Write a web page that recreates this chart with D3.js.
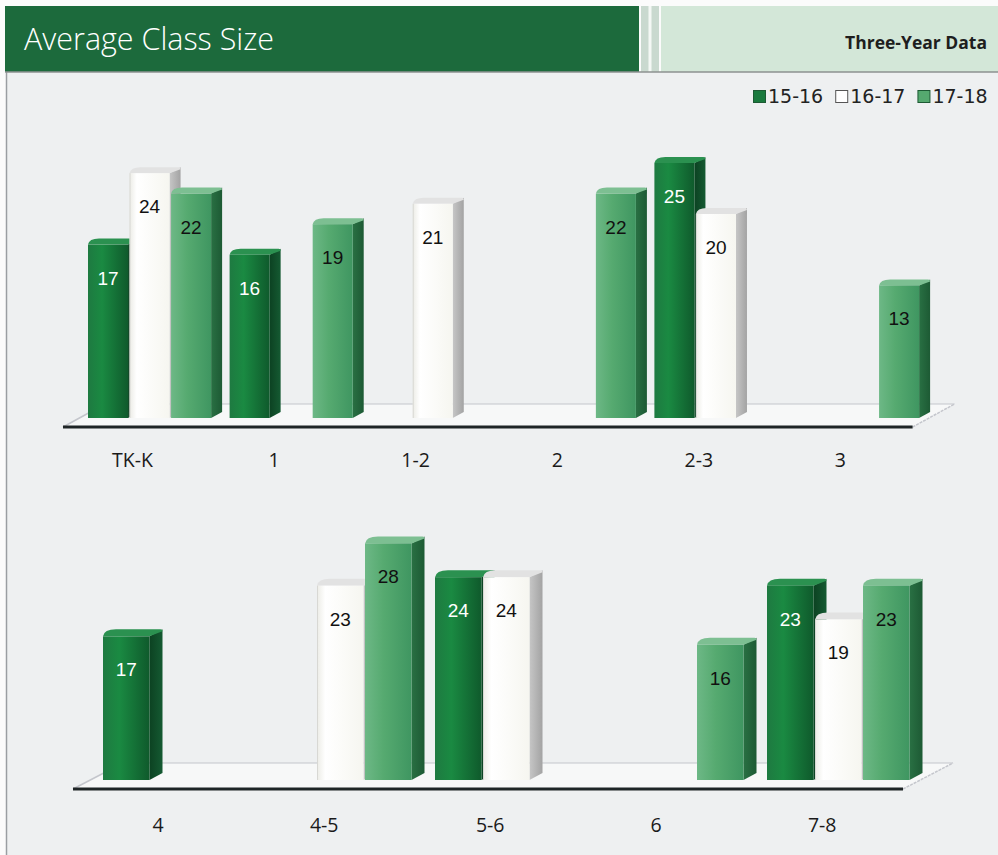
<!DOCTYPE html>
<html>
<head>
<meta charset="utf-8">
<script src="https://cdn.jsdelivr.net/npm/d3@7"></script>
<style>
  html, body { margin: 0; padding: 0; background: #fbfbfb; }
  svg { display: block; }
</style>
</head>
<body>
<div id="chart"></div>
<script>
// data
var series = ["15-16", "16-17", "17-18"];

var topCategories = ["TK-K", "1", "1-2", "2", "2-3", "3"];
var top1516 = [17, 16, null, null, 25, null];
var top1617 = [24, null, 21, null, 20, null];
var top1718 = [22, 19, null, 22, null, 13];

var bottomCategories = ["4", "4-5", "5-6", "6", "7-8"];
var bottom1516 = [17, null, 24, null, 23];
var bottom1617 = [null, 23, 24, null, 19];
var bottom1718 = [null, 28, null, 16, 23];

var W = 998, H = 855;

var svg = d3.select("#chart").append("svg")
    .attr("width", W)
    .attr("height", H);

var defs = svg.append("defs");

function hGrad(id, stops) {
    var g = defs.append("linearGradient").attr("id", id)
        .attr("x1", "0%").attr("x2", "100%").attr("y1", "0%").attr("y2", "0%");
    stops.forEach(function (s) {
        g.append("stop").attr("offset", s[0]).attr("stop-color", s[1]);
    });
}

// bar colours (front, side, top) per series
hGrad("f0", [["0%", "#1e7a41"], ["35%", "#1a8a42"], ["100%", "#0f5a2c"]]);
hGrad("s0", [["0%", "#0c4222"], ["100%", "#155a32"]]);
hGrad("f1", [["0%", "#ecece6"], ["18%", "#ffffff"], ["100%", "#f6f6f0"]]);
hGrad("s1", [["0%", "#c6c6c6"], ["100%", "#a3a3a3"]]);
hGrad("f2", [["0%", "#6db886"], ["40%", "#56aa70"], ["100%", "#3f9661"]]);
hGrad("s2", [["0%", "#297043"], ["100%", "#1d5a34"]]);

var topColor = ["#2b9150", "#e2e2e2", "#7dbf92"];
var textColor = ["#ffffff", "#111111", "#111111"];
var legendColor = ["#1a7a3e", "#ffffff", "#55a96f"];

// panel background
svg.append("rect")
    .attr("x", 6).attr("y", 72)
    .attr("width", W - 6).attr("height", H - 72)
    .attr("fill", "#eef0f1");
svg.append("line")
    .attr("x1", 6.5).attr("x2", 6.5).attr("y1", 72).attr("y2", H)
    .attr("stroke", "#9a9ea2").attr("stroke-width", 1.5);

// header
svg.append("rect")
    .attr("x", 5).attr("y", 6).attr("width", 634).attr("height", 66)
    .attr("fill", "#1c6a3c");
svg.append("rect")
    .attr("x", 641).attr("y", 6).attr("width", 18).attr("height", 66)
    .attr("fill", "#c9d9cf");
svg.append("line")
    .attr("x1", 650).attr("x2", 650).attr("y1", 6).attr("y2", 72)
    .attr("stroke", "#f4f8f5").attr("stroke-width", 3);
svg.append("rect")
    .attr("x", 661).attr("y", 6).attr("width", W - 661).attr("height", 66)
    .attr("fill", "#d3e7d8");
svg.append("line")
    .attr("x1", 5).attr("x2", W).attr("y1", 72).attr("y2", 72)
    .attr("stroke", "#8c9290").attr("stroke-width", 1.5);

svg.append("text")
    .attr("x", 24).attr("y", 50)
    .attr("textLength", 250)
    .attr("lengthAdjust", "spacingAndGlyphs")
    .style("font-family", "'Open Sans', sans-serif")
    .style("font-weight", 300)
    .style("font-size", "32px")
    .attr("fill", "#ffffff")
    .text("Average Class Size");

svg.append("text")
    .attr("x", 987).attr("y", 49)
    .attr("text-anchor", "end")
    .style("font-family", "'Open Sans', sans-serif")
    .style("font-weight", 700)
    .style("font-size", "17.5px")
    .attr("fill", "#1e1e1e")
    .text("Three-Year Data");

// legend
var legend = svg.append("g").attr("transform", "translate(753,90)");
var lx = 0;
series.forEach(function (s, i) {
    legend.append("rect")
        .attr("x", lx + 0.5).attr("y", 0.5)
        .attr("width", 12).attr("height", 12)
        .attr("fill", legendColor[i])
        .attr("stroke", i == 1 ? "#555" : "#1d5a34")
        .attr("stroke-width", 1);
    var t = legend.append("text")
        .attr("x", lx + 15).attr("y", 13)
        .style("font-family", "'DejaVu Sans', sans-serif")
        .style("font-size", "19px")
        .attr("fill", "#222")
        .text(s);
    lx += 15 + t.node().getComputedTextLength() + 12;
});

function drawPanel(cfg) {
    var g = svg.append("g");
    var n = cfg.categories.length;

    var x = d3.scaleBand()
        .domain(cfg.categories)
        .range([cfg.x0, cfg.x0 + cfg.step * (n - cfg.padInner)])
        .paddingInner(cfg.padInner)
        .paddingOuter(0);

    var xs = d3.scaleBand()
        .domain(series)
        .range([0, x.bandwidth()]);

    var y = d3.scaleLinear()
        .domain([0, cfg.maxV])
        .range([cfg.base, cfg.base - cfg.maxV * cfg.pxPerUnit]);

    var r = x.range();
    var fl = r[0] - cfg.floorLeft, fr = r[1] - cfg.floorRight;
    var yf = cfg.base + cfg.floorFront, yb = cfg.base - cfg.floorBack;

    // floor
    g.append("path")
        .attr("d", "M" + fl + "," + yf + "L" + fr + "," + yf +
            "L" + (fr + cfg.floorDx) + "," + yb + "L" + (fl + cfg.floorDx) + "," + yb + "Z")
        .attr("fill", "#f7f8f8");
    g.append("line")
        .attr("x1", fl + cfg.floorDx).attr("x2", fr + cfg.floorDx)
        .attr("y1", yb).attr("y2", yb)
        .attr("stroke", "#c4c6cc").attr("stroke-width", 1.2);
    g.append("line")
        .attr("x1", fr).attr("x2", fr + cfg.floorDx)
        .attr("y1", yf).attr("y2", yb)
        .attr("stroke", "#c4c6cc").attr("stroke-width", 1.5)
        .attr("stroke-dasharray", "3,1");
    g.append("line")
        .attr("x1", fl).attr("x2", fl + cfg.floorDx)
        .attr("y1", yf).attr("y2", yb)
        .attr("stroke", "#c4c6cc").attr("stroke-width", 1.5);
    g.append("line")
        .attr("x1", fl).attr("x2", fr)
        .attr("y1", yf).attr("y2", yf)
        .attr("stroke", "#1e2526").attr("stroke-width", 3);

    // bars, left to right so the next front face hides the previous side
    var bars = [];
    cfg.categories.forEach(function (c, ci) {
        series.forEach(function (s, si) {
            var v = cfg.values[si][ci];
            if (v != null) bars.push({ cat: c, si: si, value: v });
        });
    });

    var w = xs.bandwidth() - 1.5, d = cfg.depth, dy = cfg.depthY;

    bars.forEach(function (b) {
        var bx = x(b.cat) + xs(series[b.si]);
        var ty = y(b.value), by = y(0);
        var bg = g.append("g");

        bg.append("path")
            .attr("d", "M" + (bx + w) + "," + ty + "L" + (bx + w + d) + "," + (ty - dy) +
                "L" + (bx + w + d) + "," + (by - dy) + "L" + (bx + w) + "," + by + "Z")
            .attr("fill", "url(#s" + b.si + ")");
        bg.append("path")
            .attr("d", "M" + bx + "," + ty + "Q" + (bx + 1) + "," + (ty - dy) + " " + (bx + d) + "," + (ty - dy) +
                "L" + (bx + w + d - 2) + "," + (ty - dy) + "Q" + (bx + w + d) + "," + (ty - dy) + " " + (bx + w + d) + "," + (ty - dy + 2) +
                "L" + (bx + w) + "," + ty + "Z")
            .attr("fill", topColor[b.si]);
        bg.append("rect")
            .attr("x", bx).attr("y", ty)
            .attr("width", w).attr("height", by - ty)
            .attr("fill", "url(#f" + b.si + ")");
        if (b.si == 1) {
            bg.append("line")
                .attr("x1", bx + 0.5).attr("x2", bx + 0.5).attr("y1", ty).attr("y2", by)
                .attr("stroke", "#d8d8d4").attr("stroke-width", 1);
        }

        bg.append("text")
            .attr("x", bx + w / 2)
            .attr("y", ty + 40)
            .attr("text-anchor", "middle")
            .style("font-family", "'Liberation Sans', Arial, sans-serif")
            .style("font-size", "19px")
            .attr("fill", textColor[b.si])
            .text(b.value);
    });

    // category labels
    g.selectAll(".cat")
        .data(cfg.categories)
        .enter().append("text")
        .attr("class", "cat")
        .attr("x", function (c) { return x(c) + xs.bandwidth() * cfg.labelShift; })
        .attr("y", cfg.labelY)
        .attr("text-anchor", "middle")
        .style("font-family", "'Open Sans', sans-serif")
        .style("font-size", "19.5px")
        .attr("fill", "#1a1a1a")
        .text(function (c) { return c; });
}

drawPanel({
    categories: topCategories,
    values: [top1516, top1617, top1718],
    x0: 88, step: 141.6, padInner: 0.12,
    base: 418, maxV: 25, pxPerUnit: 10.2,
    depth: 11, depthY: 6,
    floorLeft: 25, floorRight: 8, floorFront: 9, floorBack: 14, floorDx: 42,
    labelShift: 1.07, labelY: 467
});

drawPanel({
    categories: bottomCategories,
    values: [bottom1516, bottom1617, bottom1718],
    x0: 103, step: 166, padInner: 0.1325,
    base: 780, maxV: 28, pxPerUnit: 8.45,
    depth: 13, depthY: 7,
    floorLeft: 30, floorRight: 8, floorFront: 9, floorBack: 17, floorDx: 50,
    labelShift: 1.15, labelY: 832
});
</script>
</body>
</html>
